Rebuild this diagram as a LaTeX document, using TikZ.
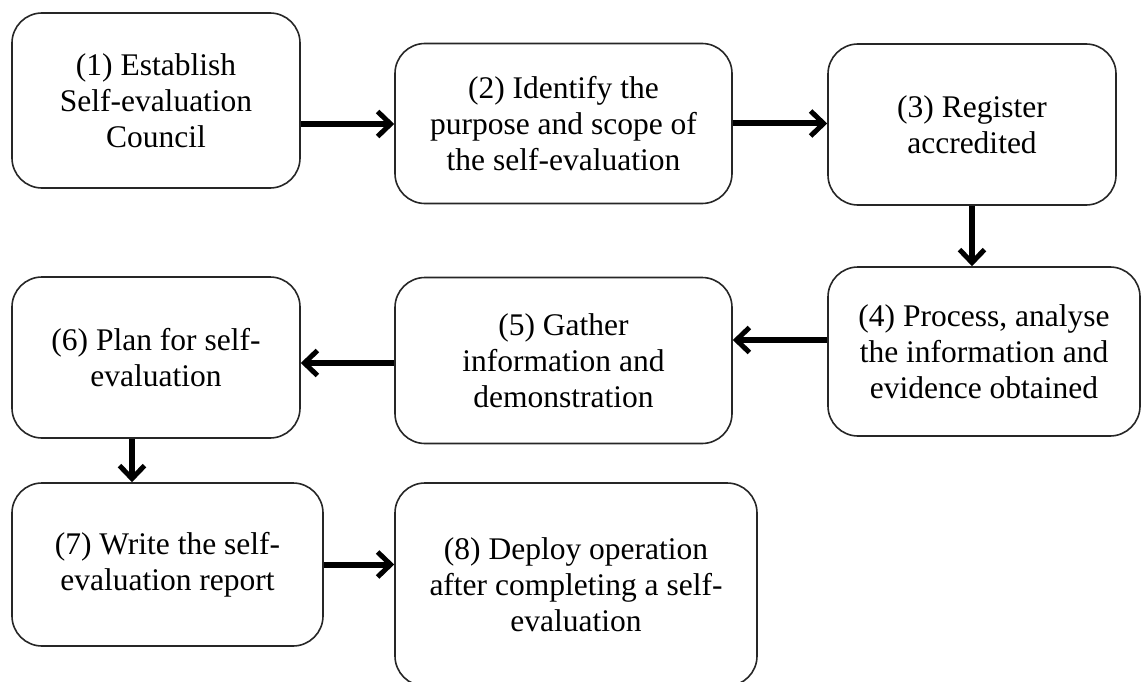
\documentclass[tikz,border=0pt]{standalone}
\usepackage{fontspec}
\setmainfont{Liberation Serif}
\usetikzlibrary{arrows.meta}
\begin{document}
\begin{tikzpicture}[x=1pt,y=-1pt,
  stepbox/.style={draw=black!85, line width=1.6pt, rounded corners=30pt,
    fill=white, inner sep=0pt, align=center,
    font=\fontsize{31.5}{36}\selectfont},
  flow/.style={line width=6pt, draw=black,
    -{Straight Barb[length=13pt,width=25pt,line width=5pt]}}]
  \useasboundingbox (0,0) rectangle (1146,682);
  \begin{scope}
  \clip (0,0) rectangle (1146,682);
  % process steps
  \node[stepbox, minimum width=288pt, minimum height=175pt] (b1) at (156,100.5)
    {(1) Establish\\Self-evaluation\\Council};
  \node[stepbox, minimum width=337pt, minimum height=160pt] (b2) at (563.5,123.5)
    {(2) Identify the\\purpose and scope of\\the self-evaluation};
  \node[stepbox, minimum width=288pt, minimum height=161pt] (b3) at (972,124.5)
    {(3) Register\\accredited};
  \node[stepbox, minimum width=312pt, minimum height=169pt] (b4) at (984,351.5)
    {(4) Process, analyse\\the information and\\evidence obtained};
  \node[stepbox, minimum width=337pt, minimum height=166pt] (b5) at (563.5,360.5)
    {(5) Gather\\information and\\demonstration};
  \node[stepbox, minimum width=288pt, minimum height=161pt] (b6) at (156,357.5)
    {(6) Plan for self-\\evaluation};
  \node[stepbox, minimum width=311pt, minimum height=163pt] (b7) at (167.5,564.5)
    {(7) Write the self-\\evaluation report};
  \node[stepbox, minimum width=362pt, minimum height=203pt] (b8) at (576,584.5)
    {(8) Deploy operation\\after completing a self-\\evaluation};
  \end{scope}
  % connectors
  \draw[flow] ([yshift=-23.5pt]b1.east) -- ([yshift=-23.5pt]b1.east -| b2.west);
  \draw[flow] (b2.east) -- (b2.east -| b3.west);
  \draw[flow] (b3.south) -- (b3.south |- b4.north);
  \draw[flow] ([yshift=11.5pt]b4.west) -- ([yshift=11.5pt]b4.west -| b5.east);
  \draw[flow] ([yshift=-2.5pt]b5.west) -- ([yshift=-2.5pt]b5.west -| b6.east);
  \draw[flow] ([xshift=-24pt]b6.south) -- ([xshift=-24pt]b6.south |- b7.north);
  \draw[flow] (b7.east) -- (b7.east -| b8.west);
\end{tikzpicture}
\end{document}
